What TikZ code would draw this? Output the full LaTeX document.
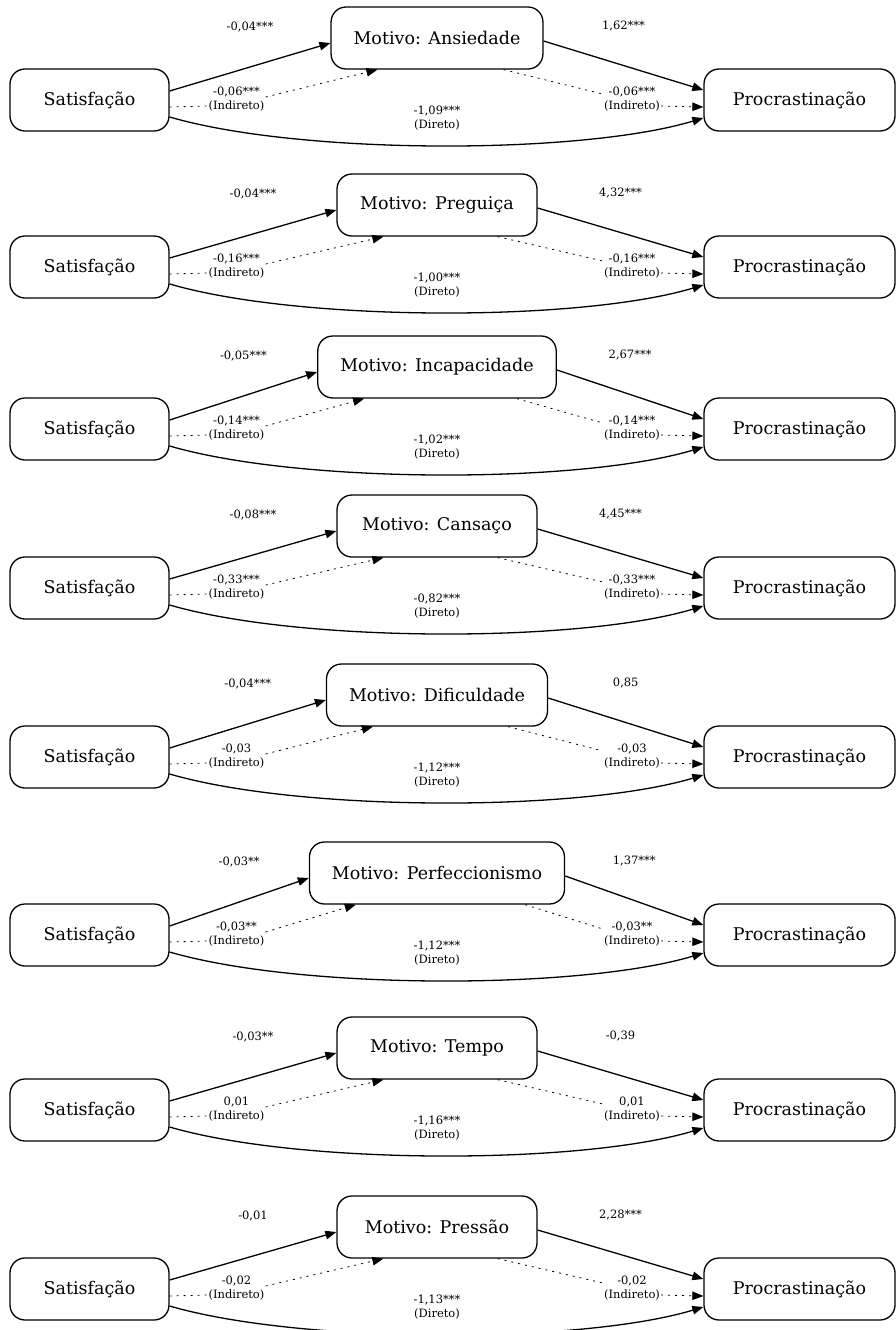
\documentclass[tikz,border=0pt]{standalone}
\usepackage{fontspec}
\setmainfont{DejaVu Serif}
\usetikzlibrary{arrows.meta,calc}
\tikzset{
  box/.style={draw, line width=1.3pt, rounded corners=15pt, minimum height=62pt,
    font=\fontsize{17.5}{21}\selectfont, inner sep=0pt},
  satbox/.style={box, minimum width=159pt},
  procbox/.style={box, minimum width=191pt},
  medbox/.style={box, minimum width=200pt, inner xsep=22.5pt},
  lab/.style={font=\fontsize{11.5}{14}\selectfont, align=center, inner sep=1pt},
  pathedge/.style={line width=1.3pt, -{Triangle[length=11pt,width=8.5pt]}},
  indedge/.style={line width=0.8pt, dash pattern=on 2pt off 5pt},
  indarrow/.style={indedge, -{Triangle[length=11pt,width=8.5pt]}},
}
\newcommand\mpanel[7]{%
  \node[satbox] (s#1) at (89.5,#2) {Satisfação};
  \node[procbox] (p#1) at (799.5,#2) {Procrastinação};
  \node[medbox] (m#1) at (437,#2-62) {Motivo: #3};
  \draw[pathedge] ([yshift=9pt]s#1.east) -- ([yshift=-5pt]m#1.west);
  \draw[pathedge] ([yshift=-3pt]m#1.east) -- ([yshift=10pt]p#1.west);
  \draw[pathedge] ([yshift=-17pt]s#1.east) .. controls (300,#2+55) and (580,#2+55) .. ([yshift=-18pt]p#1.west);
  \node[lab, yshift=42pt] (la#1) at ($(s#1.east)!0.5!(m#1.west)$) {#4};
  \node[lab, yshift=43pt] (lb#1) at ($(m#1.east)!0.5!(p#1.west)$) {#5};
  \node[lab] (il#1) at (236.5,#2-1) {#6\\(Indireto)};
  \node[lab] (ir#1) at (632,#2-1) {#6\\(Indireto)};
  \node[lab] (d#1) at (437,#2+18.5) {#7\\(Direto)};
  \draw[indedge] ([yshift=-7pt]s#1.east) -- ([yshift=-7pt]il#1.west);
  \draw[indarrow] ([yshift=2pt]il#1.east) -- ([xshift=47pt]m#1.south west);
  \draw[indedge] ([xshift=-40pt]m#1.south east) -- ([yshift=5pt]ir#1.west);
  \draw[indarrow] ([yshift=-7pt]ir#1.east) -- ([yshift=-7pt]p#1.west);
}
\begin{document}
\begin{tikzpicture}[x=1pt,y=-1pt]
  \clip (0,0) rectangle (896,1330);
  \fill[white] (0,0) rectangle (896,1330);
  \mpanel{1}{100}{Ansiedade}{-0,04***}{1,62***}{-0,06***}{-1,09***}
  \mpanel{2}{267}{Preguiça}{-0,04***}{4,32***}{-0,16***}{-1,00***}
  \mpanel{3}{429}{Incapacidade}{-0,05***}{2,67***}{-0,14***}{-1,02***}
  \mpanel{4}{588}{Cansaço}{-0,08***}{4,45***}{-0,33***}{-0,82***}
  \mpanel{5}{757}{Dificuldade}{-0,04***}{0,85}{-0,03}{-1,12***}
  \mpanel{6}{935}{Perfeccionismo}{-0,03**}{1,37***}{-0,03**}{-1,12***}
  \mpanel{7}{1110}{Tempo}{-0,03**}{-0,39}{0,01}{-1,16***}
  \mpanel{8}{1289}{Pressão}{-0,01}{2,28***}{-0,02}{-1,13***}
\end{tikzpicture}
\end{document}
